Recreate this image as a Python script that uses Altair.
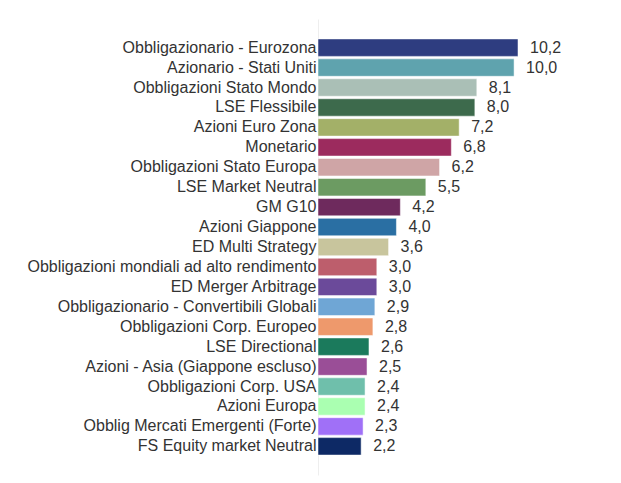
import altair as alt
import pandas as pd

categories = [
    "Obbligazionario - Eurozona",
    "Azionario - Stati Uniti",
    "Obbligazioni Stato Mondo",
    "LSE Flessibile",
    "Azioni Euro Zona",
    "Monetario",
    "Obbligazioni Stato Europa",
    "LSE Market Neutral",
    "GM G10",
    "Azioni Giappone",
    "ED Multi Strategy",
    "Obbligazioni mondiali ad alto rendimento",
    "ED Merger Arbitrage",
    "Obbligazionario - Convertibili Globali",
    "Obbligazioni Corp. Europeo",
    "LSE Directional",
    "Azioni - Asia (Giappone escluso)",
    "Obbligazioni Corp. USA",
    "Azioni Europa",
    "Obblig Mercati Emergenti (Forte)",
    "FS Equity market Neutral",
]
values = [10.2, 10.0, 8.1, 8.0, 7.2, 6.8, 6.2, 5.5, 4.2, 4.0, 3.6, 3.0, 3.0, 2.9, 2.8, 2.6, 2.5, 2.4, 2.4, 2.3, 2.2]
colors = [
    "#2e3d80", "#5fa3ae", "#aabfb6", "#3d6a4c", "#a3b068", "#9c2b5e", "#cfa5a6",
    "#6c9b62", "#6e2a5d", "#2a6fa3", "#c8c59d", "#bd5e6c", "#6b4a9a", "#6fa6d5",
    "#ee996c", "#1b7a5c", "#9a4e97", "#6fbfab", "#aaffb1", "#a070f7", "#0d2965",
]

df = pd.DataFrame({"cat": categories, "val": values})

y = alt.Y(
    "cat:N",
    sort=categories,
    scale=alt.Scale(paddingInner=0.125, paddingOuter=1),
    axis=alt.Axis(
        title=None,
        ticks=False,
        domain=True,
        domainColor="#eeeeee",
        domainWidth=1,
        labelFont="Liberation Sans",
        labelFontSize=16,
        labelColor="#333333",
        labelPadding=2,
        labelLimit=400,
        minExtent=310,
        maxExtent=310,
        grid=False,
    ),
)
x = alt.X("val:Q", scale=alt.Scale(domain=[0, 10.2], nice=False, zero=True), axis=None)

bars = alt.Chart(df).mark_bar(stroke="white", strokeWidth=1, strokeOpacity=0.5).encode(
    y=y,
    x=x,
    color=alt.Color("cat:N", scale=alt.Scale(domain=categories, range=colors), legend=None),
)

labels = alt.Chart(df).transform_calculate(
    lab="replace(format(datum.val, '.1f'), '.', ',')"
).mark_text(
    align="left", baseline="middle", dx=12, font="Liberation Sans", fontSize=16, color="#333333"
).encode(y=y, x=x, text="lab:N")

chart = (bars + labels).properties(
    width=200,
    height=456,
    padding={"top": 11, "left": 0, "right": 5, "bottom": 5},
    background="white",
).configure_view(stroke=None)

chart.save("out.html", embed_options={"renderer": "svg", "actions": False})
